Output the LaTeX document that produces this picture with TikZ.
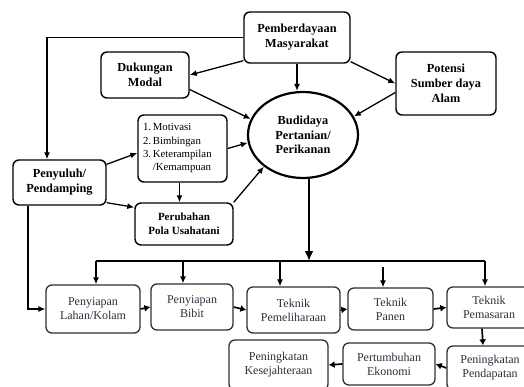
\documentclass[tikz,border=0pt]{standalone}
\usepackage{fontspec}
\setmainfont{Liberation Serif}
\usetikzlibrary{arrows.meta,shapes.geometric}
\definecolor{rowgray}{RGB}{45,47,58}

\begin{document}
\begin{tikzpicture}[x=1pt,y=-1pt,
  topbox/.style={draw,line width=1.4pt,rounded corners=6pt,align=center,inner sep=0pt,
    font=\bfseries\fontsize{12.3}{15}\selectfont},
  rowbox/.style={draw=rowgray,text=rowgray,line width=1.3pt,rounded corners=6pt,align=center,inner sep=0pt,
    font=\fontsize{12}{14}\selectfont},
  sz/.style 2 args={minimum width=#1pt,minimum height=#2pt},
  arr/.style={-{Latex[length=7pt,width=6pt]},line width=1.3pt},
  rowarr/.style={-{Latex[length=6pt,width=7pt]},line width=1.7pt},
  bigarr/.style={-{Latex[length=10pt,width=9pt]},line width=2.4pt}]
  \useasboundingbox (0,0) rectangle (524,387);

  % upper part
  \node[topbox,sz={106}{51}] (pemb) at (297,37.5) {Pemberdayaan\\Masyarakat};
  \node[topbox,sz={88}{46}] (dukungan) at (145,75) {Dukungan\\Modal};
  \node[topbox,sz={100}{63}] (potensi) at (446,83.5) {Potensi\\Sumber daya\\Alam};
  \node[draw,ellipse,line width=2.2pt,sz={110}{86},inner sep=0pt,align=center,
    font=\bfseries\fontsize{12.3}{14.5}\selectfont] (budidaya) at (303,135) {Budidaya\\Pertanian/\\Perikanan};
  \node[draw,line width=1.4pt,rounded corners=6pt,text width=79pt,inner xsep=5pt,inner ysep=0pt,
    minimum height=67pt,align=left,font=\fontsize{10.8}{13.3}\selectfont] (list) at (182.5,148.5)
    {1.\,Motivasi\\2.\,Bimbingan\\3.\,Keterampilan\\\phantom{3.\,}/Kemampuan};
  \node[topbox,sz={93}{45}] (peny) at (59.5,182.5) {Penyuluh/\\Pendamping};
  \node[topbox,sz={98}{42},font=\bfseries\fontsize{11}{14}\selectfont] (perubahan) at (184,224) {Perubahan\\Pola Usahatani};

  % lower part
  \node[rowbox,sz={94}{48}] (lahan) at (93,309) {Penyiapan\\Lahan/Kolam};
  \node[rowbox,sz={82}{46}] (bibit) at (192,307) {Penyiapan\\Bibit};
  \node[rowbox,sz={93}{46}] (pemeliharaan) at (293.5,310) {Teknik\\Pemeliharaan};
  \node[rowbox,sz={85}{42}] (panen) at (390.5,309) {Teknik\\Panen};
  \node[rowbox,sz={84}{41}] (pemasaran) at (489,307.5) {Teknik\\Pemasaran};
  \node[rowbox,sz={86}{44}] (pendapatan) at (490,368) {Peningkatan\\Pendapatan};
  \node[rowbox,sz={92}{42}] (pertumbuhan) at (389,364) {Pertumbuhan\\Ekonomi};
  \node[rowbox,sz={99}{50}] (kesejahteraan) at (278.5,365) {Peningkatan\\Kesejahteraan};

  \coordinate (b1) at (96,261);
  \coordinate (b2) at (183,261);
  \coordinate (b3) at (280,261);
  \coordinate (b4) at (383,261);
  \coordinate (b5) at (485,261);
  \coordinate (k1) at (47,0);
  \coordinate (k2) at (28,307);

  \draw[arr] ([yshift=3pt]pemb.south west) -- (dukungan.east);
  \draw[arr] ([yshift=2pt]pemb.south east) -- (potensi.west);
  \draw[arr] (pemb.south) -- (pemb.south |- budidaya.north);
  \draw[arr] (pemb.west) -| (k1 |- peny.north);
  \draw[arr] (dukungan.-18) -- (budidaya.163);
  \draw[arr] ([yshift=-9pt]potensi.west) -- (budidaya.20);
  \draw[arr] (list.east) -- (budidaya.188);
  \draw[arr] (perubahan.north east) -- (budidaya.219);
  \draw[arr] ([yshift=-5pt]peny.north east) -- ([yshift=-4.5pt]list.west);
  \draw[arr] ([yshift=3pt]peny.south east) -- ([yshift=-5pt]perubahan.north west);
  \draw[arr] ([xshift=-3pt]list.south) -- ([xshift=-3pt]list.south |- perubahan.north);
  \draw[arr] (k2 |- peny.south) |- (lahan.west);

  \draw[bigarr] ([xshift=6pt]budidaya.south) -- ([xshift=6pt]budidaya.south |- b1);
  \draw[line width=1.4pt] (b1) -- (b5);
  \draw[arr] (b1) -- (b1 |- lahan.north);
  \draw[arr] (b2) -- (b2 |- bibit.north);
  \draw[arr] (b3) -- (b3 |- pemeliharaan.north);
  \draw[arr] ([yshift=-6pt]b4) -- (b4 |- panen.north);
  \draw[arr] (b5) -- (b5 |- pemasaran.north);

  \draw[rowarr] (lahan.east) -- (bibit.west);
  \draw[rowarr] (bibit.east) -- (pemeliharaan.west);
  \draw[rowarr] (pemeliharaan.east) -- (panen.west);
  \draw[rowarr] (panen.east) -- (pemasaran.west);
  \draw[rowarr] ([xshift=-7pt]pemasaran.south) -- ([xshift=-7pt]pendapatan.north);
  \draw[rowarr] (pendapatan.west) -- (pertumbuhan.east);
  \draw[rowarr] (pertumbuhan.west) -- (kesejahteraan.east);
\end{tikzpicture}
\end{document}
